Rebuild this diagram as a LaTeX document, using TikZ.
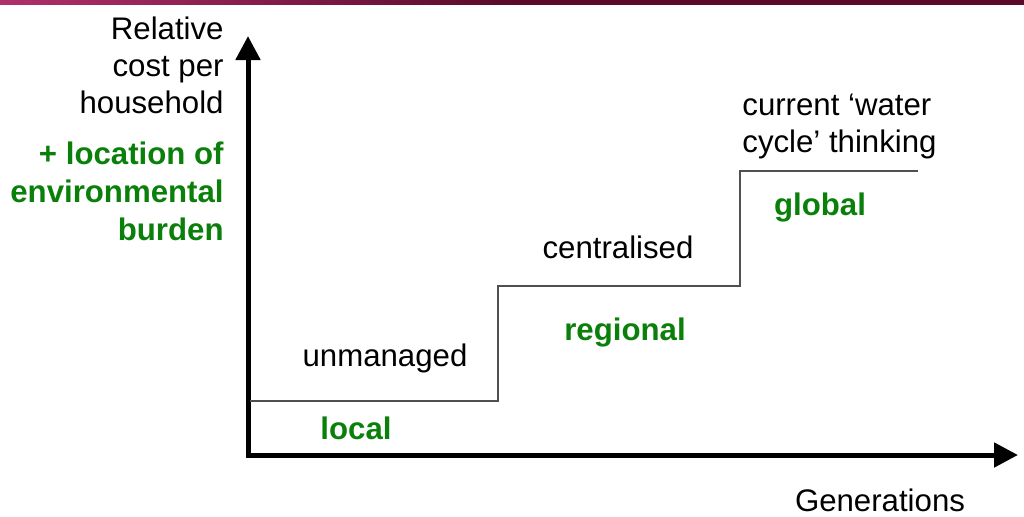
\documentclass[tikz,border=0pt]{standalone}
\usepackage{fontspec}
\setmainfont{Liberation Sans}
\usepackage{xcolor}
\usetikzlibrary{arrows.meta, positioning}
\definecolor{wcgreen}{HTML}{0A800A}
\definecolor{wcgray}{HTML}{505050}
\definecolor{wcband}{HTML}{5A0A2A}
\definecolor{wcpink}{HTML}{B0306A}

\begin{document}
\begin{tikzpicture}[x=0.5pt, y=-0.5pt,
  label/.style={font=\fontsize{15.6}{18.5}\selectfont, inner sep=0pt, text=black},
  burden/.style={font=\fontsize{15.6}{19}\selectfont\bfseries, inner sep=0pt, text=wcgreen},
  axis/.style={line width=2.5pt, line join=miter,
    {Triangle[length=12pt,width=12pt]}-{Triangle[length=12pt,width=12pt]}},
  stair/.style={line width=1pt, draw=wcgray},
]
  \useasboundingbox (0,0) rectangle (1024,516);
  \shade[left color=wcpink, right color=wcband, middle color=wcband] (0,0) rectangle (1024,4);

  \coordinate (ytip) at (248,36);
  \coordinate (origin) at (248,455);
  \coordinate (xtip) at (1018,455);
  \draw[axis] (ytip) -- (origin) -- (xtip);

  \coordinate (s0) at (250,401);
  \coordinate (s1) at (498,401);
  \coordinate (s2) at (498,286);
  \coordinate (s3) at (740,286);
  \coordinate (s4) at (740,171);
  \coordinate (s5) at (918,171);
  \draw[stair] (s0) -- (s1) -- (s2) -- (s3) -- (s4) -- (s5);

  \node[label, align=right, anchor=east] (ylabel) at (224,65) {Relative\\cost per\\household};
  \node[burden, align=right, anchor=east] (location) at (224,191) {+ location of\\environmental\\burden};

  \node[label] (unmanaged) at (385,358) {unmanaged};
  \node[burden] (local) at (356,428) {local};
  \node[label] (central) at (618,247) {centralised};
  \node[burden] (regional) at (625,332) {regional};
  \node[label, align=left, anchor=west] (cycle) at (742,126) {current `water\\cycle' thinking};
  \node[burden] (global) at (820,207) {global};

  \node[label] (xlabel) at (880,500) {Generations};
\end{tikzpicture}
\end{document}
